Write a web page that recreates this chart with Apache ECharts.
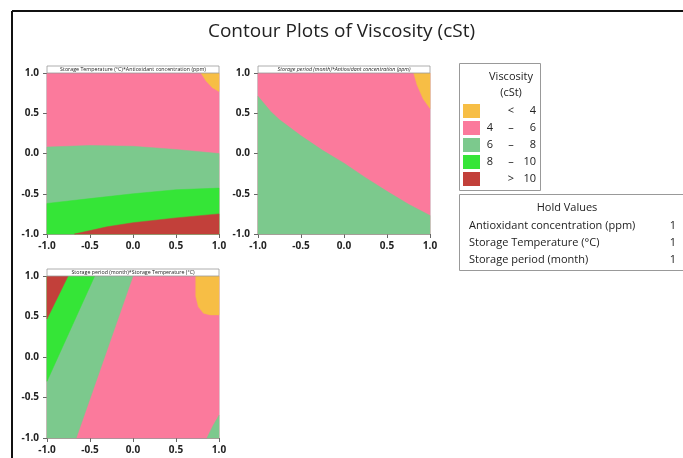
<!DOCTYPE html>
<html>
<head>
<meta charset="utf-8">
<script src="https://cdn.jsdelivr.net/npm/echarts@6/dist/echarts.min.js"></script>
<style>
html,body{margin:0;padding:0;background:#fff;}
#chart{width:683px;height:458px;}
</style>
</head>
<body>
<div id="chart"></div>
<script>
// ---- Data (coded factor levels, -1 .. 1) ----
const tickLabels = ["-1.0", "-0.5", "0.0", "0.5", "1.0"];
const legendLabels = [["", "<", "4"], ["4", "\u2013", "6"], ["6", "\u2013", "8"], ["8", "\u2013", "10"], ["", ">", "10"]];
const panelTitles = [
  "Storage Temperature (\u00B0C)*Antioxidant concentration (ppm)",
  "Storage period (month)*Antioxidant concentration (ppm)",
  "Storage period (month)*Storage Temperature (\u00B0C)"
];
const holdFactors = ["Antioxidant concentration (ppm)", "Storage Temperature (\u00B0C)", "Storage period (month)"];
const holdValues = [1, 1, 1];

// Panel 1 contour boundaries
const p1_pinkGreen = [[-1, 0.08], [-0.5, 0.1], [0, 0.09], [0.5, 0.05], [1, 0.0]];
const p1_green8 = [[-1, -0.62], [-0.5, -0.56], [0, -0.5], [0.5, -0.45], [1, -0.43]];
const p1_red10 = [[-0.68, -1], [-0.3, -0.91], [0, -0.86], [0.5, -0.8], [1, -0.75]];
const p1_orange4 = [[0.79, 1], [0.85, 0.9], [0.92, 0.82], [1, 0.77]];
// Panel 2 contour boundaries
const p2_pinkGreen = [[-1, 0.71], [-0.85, 0.52], [-0.75, 0.42], [-0.5, 0.22], [-0.25, 0.04], [0, -0.12], [0.25, -0.3], [0.5, -0.47], [0.75, -0.63], [1, -0.77]];
const p2_orange4 = [[0.81, 1], [0.85, 0.85], [0.92, 0.68], [1, 0.56]];
// Panel 3 contour boundaries
const p3_greenPink = [[0, 1], [-0.33, 0], [-0.66, -1]];
const p3_green8 = [[-0.445, 1], [-1, -0.3]];
const p3_red10 = [[-0.755, 1], [-1, 0.47]];
const p3_orange4 = [[0.73, 1], [0.73, 0.75], [0.76, 0.62], [0.82, 0.54], [0.9, 0.52], [1, 0.52]];
const p3_green6corner = [[0.86, -1], [0.93, -0.85], [1, -0.72]];

const C = {
  orange: '#F7BE45',
  pink: '#FB7A9C',
  green6: '#7CC98D',
  green8: '#35E537',
  red: '#C2403A'
};
const legendColors = [C.orange, C.pink, C.green6, C.green8, C.red];

const full = [[-1, 1], [1, 1], [1, -1], [-1, -1]];
const regions = [
  // panel 1
  {g: 0, color: C.pink, pts: full},
  {g: 0, color: C.green6, pts: p1_pinkGreen.concat([[1, -1], [-1, -1]])},
  {g: 0, color: C.green8, pts: p1_green8.concat([[1, -1], [-1, -1]])},
  {g: 0, color: C.red, pts: p1_red10.concat([[1, -1]])},
  {g: 0, color: C.orange, pts: p1_orange4.concat([[1, 1]])},
  // panel 2
  {g: 1, color: C.pink, pts: full},
  {g: 1, color: C.green6, pts: p2_pinkGreen.concat([[1, -1], [-1, -1]])},
  {g: 1, color: C.orange, pts: p2_orange4.concat([[1, 1]])},
  // panel 3
  {g: 2, color: C.pink, pts: full},
  {g: 2, color: C.green6, pts: [[-1, 1]].concat(p3_greenPink, [[-1, -1]])},
  {g: 2, color: C.green8, pts: [[-1, 1]].concat(p3_green8)},
  {g: 2, color: C.red, pts: [[-1, 1]].concat(p3_red10)},
  {g: 2, color: C.orange, pts: p3_orange4.concat([[1, 1]])},
  {g: 2, color: C.green6, pts: p3_green6corner.concat([[1, -1]])}
];

const grids = [
  {left: 47, top: 73, width: 172, height: 161},
  {left: 258, top: 73, width: 172, height: 161},
  {left: 47, top: 276, width: 172, height: 162}
];

const labelStyle = {color: '#222', fontSize: 10, fontWeight: 'bold', fontFamily: 'Open Sans'};
function mkAxis(i, isX) {
  return {
    type: 'value', gridIndex: i, min: -1, max: 1, interval: 0.5,
    axisLine: {show: true, onZero: false, lineStyle: {color: '#999', width: 1}},
    axisTick: {show: true, length: 4, lineStyle: {color: '#666'}},
    axisLabel: Object.assign({margin: isX ? 7 : 8, formatter: v => tickLabels[Math.round((v + 1) * 2)]}, labelStyle),
    splitLine: {show: true, lineStyle: {color: 'rgba(255,255,255,0.3)', width: 1}}
  };
}

const series = regions.map(r => ({
  type: 'custom',
  xAxisIndex: r.g, yAxisIndex: r.g,
  data: r.pts,
  encode: {x: 0, y: 1},
  silent: true,
  renderItem: function (params, api) {
    if (params.dataIndex !== 0) return null;
    const pts = r.pts.map(p => api.coord(p));
    return {type: 'polygon', shape: {points: pts, smooth: 0}, style: {fill: r.color, stroke: r.color, lineWidth: 0.5}};
  }
}));

// ---- graphics: frame, strips, legend, hold values ----
const graphic = [];
graphic.push({type: 'line', shape: {x1: 12, y1: 11, x2: 683, y2: 11}, style: {stroke: '#111', lineWidth: 2}});
graphic.push({type: 'line', shape: {x1: 12, y1: 11, x2: 12, y2: 458}, style: {stroke: '#111', lineWidth: 2}});
grids.forEach((g, i) => {
  graphic.push({type: 'rect', shape: {x: g.left, y: g.top - 7, width: g.width, height: 7},
    style: {fill: '#fff', stroke: '#999', lineWidth: 0.8}, z: 10});
  graphic.push({type: 'text', x: g.left + g.width / 2, y: g.top - 3.5, z: 11,
    style: {text: panelTitles[i], fill: '#222', font: (i === 1 ? 'italic ' : '') + '5.3px "Open Sans"', align: 'center', verticalAlign: 'middle'}});
});
// legend box
graphic.push({type: 'rect', shape: {x: 459.5, y: 63.5, width: 81, height: 127}, style: {fill: '#fff', stroke: '#999', lineWidth: 1}});
graphic.push({type: 'text', x: 511, y: 77, style: {text: 'Viscosity', fill: '#222', font: '11px "Open Sans"', align: 'center', verticalAlign: 'middle'}});
graphic.push({type: 'text', x: 511, y: 93, style: {text: '(cSt)', fill: '#222', font: '11px "Open Sans"', align: 'center', verticalAlign: 'middle'}});
legendLabels.forEach((lab, i) => {
  const cy = 111 + i * 17;
  graphic.push({type: 'rect', shape: {x: 463, y: cy - 7, width: 17, height: 14}, style: {fill: legendColors[i]}});
  graphic.push({type: 'text', x: 490, y: cy, style: {text: lab[0], fill: '#222', font: '11px "Open Sans"', align: 'center', verticalAlign: 'middle'}});
  graphic.push({type: 'text', x: 511, y: cy, style: {text: lab[1], fill: '#222', font: '11px "Open Sans"', align: 'center', verticalAlign: 'middle'}});
  graphic.push({type: 'text', x: 536, y: cy, style: {text: lab[2], fill: '#222', font: '11px "Open Sans"', align: 'right', verticalAlign: 'middle'}});
});
// hold values box
graphic.push({type: 'rect', shape: {x: 459.5, y: 194.5, width: 230, height: 76}, style: {fill: '#fff', stroke: '#999', lineWidth: 1}});
graphic.push({type: 'text', x: 567, y: 208, style: {text: 'Hold Values', fill: '#222', font: '11px "Open Sans"', align: 'center', verticalAlign: 'middle'}});
holdFactors.forEach((f, i) => {
  const cy = 226 + i * 17;
  graphic.push({type: 'text', x: 469, y: cy, style: {text: f, fill: '#222', font: '11px "Open Sans"', align: 'left', verticalAlign: 'middle'}});
  graphic.push({type: 'text', x: 676, y: cy, style: {text: String(holdValues[i]), fill: '#222', font: '11px "Open Sans"', align: 'right', verticalAlign: 'middle'}});
});

const chart = echarts.init(document.getElementById('chart'), null, {renderer: 'canvas'});
chart.setOption({
  animation: false,
  backgroundColor: '#fff',
  title: {text: 'Contour Plots of Viscosity (cSt)', left: 'center', top: 17,
    textStyle: {fontFamily: 'Open Sans', fontSize: 19, fontWeight: 'normal', color: '#222'}},
  grid: grids.map(g => Object.assign({show: true, borderColor: '#999', borderWidth: 1, backgroundColor: 'transparent'}, g)),
  xAxis: grids.map((g, i) => mkAxis(i, true)),
  yAxis: grids.map((g, i) => mkAxis(i, false)),
  series: series,
  graphic: graphic
});
</script>
</body>
</html>
